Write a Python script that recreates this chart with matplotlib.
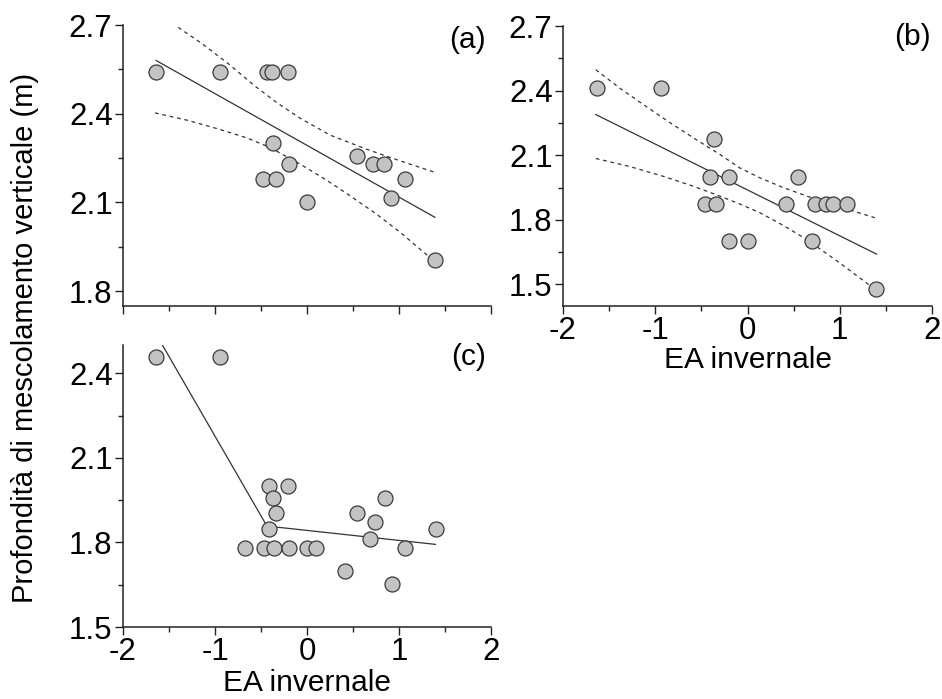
import matplotlib
matplotlib.use("Agg")
import matplotlib.pyplot as plt
from matplotlib.ticker import MultipleLocator

plt.rcParams['font.family'] = ['Liberation Sans', 'DejaVu Sans']

# ---------------- data ----------------
# panel (a)
a_x = [-1.64, -0.95, -0.44, -0.38, -0.21, -0.37, -0.20, -0.48, -0.34, 0.00,
       0.54, 0.72, 0.84, 1.06, 0.91, 1.39]
a_y = [2.54, 2.54, 2.54, 2.54, 2.54, 2.30, 2.23, 2.18, 2.18, 2.10,
       2.256, 2.23, 2.23, 2.18, 2.114, 1.907]
a_fit_x = [-1.64, 1.39]
a_fit_y = [2.58, 2.05]
a_up_x = [-1.40, -1.145, -0.85, -0.584, -0.33, -0.076, 0.25, 0.649, 1.01, 1.39]
a_up_y = [2.692, 2.638, 2.568, 2.498, 2.438, 2.385, 2.328, 2.28, 2.241, 2.202]
a_lo_x = [-1.652, -1.30, -0.946, -0.65, -0.402, -0.076, 0.20, 0.467, 0.75, 1.01, 1.39]
a_lo_y = [2.403, 2.378, 2.347, 2.318, 2.286, 2.23, 2.178, 2.123, 2.062, 2.0, 1.90]

# panel (b)
b_x = [-1.634, -0.94, -0.366, -0.41, -0.20, 0.55, -0.464, -0.337, 0.417,
       0.73, 0.85, 0.93, 1.076, -0.20, 0.00, 0.70, 1.395]
b_y = [2.41, 2.41, 2.176, 2.0, 2.0, 2.0, 1.875, 1.875, 1.875,
       1.875, 1.875, 1.875, 1.875, 1.70, 1.70, 1.70, 1.479]
b_fit_x = [-1.645, 1.399]
b_fit_y = [2.289, 1.641]
b_up_x = [-1.645, -1.38, -1.101, -0.83, -0.558, -0.30, -0.087, 0.13, 0.38, 0.638, 1.0, 1.38]
b_up_y = [2.497, 2.410, 2.327, 2.248, 2.173, 2.104, 2.042, 1.996, 1.951, 1.911, 1.860, 1.81]
b_lo_x = [-1.645, -1.28, -0.92, -0.60, -0.304, -0.08, 0.13, 0.38, 0.638, 1.0, 1.39]
b_lo_y = [2.085, 2.048, 2.003, 1.958, 1.911, 1.873, 1.834, 1.776, 1.71, 1.600, 1.475]

# panel (c)
c_x = [-1.64, -0.944, -0.41, -0.207, -0.374, 0.853, -0.338, 0.544, 0.737,
       -0.417, 1.397, 0.69, -0.679, -0.465, -0.356, -0.20, 0.00, 0.10,
       1.07, 0.417, 0.925]
c_y = [2.456, 2.456, 2.0, 2.0, 1.956, 1.956, 1.904, 1.904, 1.874,
       1.846, 1.846, 1.813, 1.78, 1.78, 1.78, 1.78, 1.78, 1.78,
       1.78, 1.70, 1.654]
c_fit_x = [-1.579, -0.436, 1.397]
c_fit_y = [2.504, 1.858, 1.793]

panel_labels = ["(a)", "(b)", "(c)"]
xlabel = "EA invernale"
ylabel = "Profondità di mescolamento verticale (m)"

# ---------------- style ----------------
FS_T = 22.5
FS_L = 21.5
mk = dict(marker='o', ls='none', ms=10.8, mfc='#c3c3c3', mec='#3a3a3a', mew=0.9, zorder=3)
solid = dict(color='#333333', lw=0.9, zorder=2)
dashed = dict(color='#333333', lw=0.9, ls=(0, (3, 3)), zorder=2)

fig = plt.figure(figsize=(9.42, 6.99), dpi=100)
ax_a = fig.add_axes([0.1306, 0.5622, 0.3906, 0.4020])
ax_b = fig.add_axes([0.5977, 0.5622, 0.3917, 0.4006])
ax_c = fig.add_axes([0.1306, 0.1030, 0.3906, 0.4034])


def style(ax, ylim, xlabels=True):
    ax.set_xlim(-2, 2)
    ax.set_ylim(*ylim)
    for s in ('top', 'right'):
        ax.spines[s].set_visible(False)
    for s in ('left', 'bottom'):
        ax.spines[s].set_linewidth(1.1)
        ax.spines[s].set_color('#222222')
    ax.xaxis.set_major_locator(MultipleLocator(1))
    ax.xaxis.set_minor_locator(MultipleLocator(0.5))
    ax.yaxis.set_major_locator(MultipleLocator(0.3))
    ax.yaxis.set_minor_locator(MultipleLocator(0.15))
    ax.tick_params(which='major', direction='out', length=6, width=1.0,
                   labelsize=FS_T, pad=1.5, color='#222222')
    ax.tick_params(which='minor', direction='out', length=3.5, width=1.0,
                   color='#222222')
    if not xlabels:
        ax.tick_params(axis='x', labelbottom=False)
    ax.yaxis.set_major_formatter(matplotlib.ticker.FormatStrFormatter('%.1f'))
    ax.xaxis.set_major_formatter(matplotlib.ticker.FormatStrFormatter('%d'))


# (a)
style(ax_a, (1.75, 2.7), xlabels=False)
ax_a.plot(a_fit_x, a_fit_y, **solid)
ax_a.plot(a_up_x, a_up_y, **dashed)
ax_a.plot(a_lo_x, a_lo_y, **dashed)
ax_a.plot(a_x, a_y, **mk)
ax_a.text(0.935, 0.947, panel_labels[0], transform=ax_a.transAxes,
          ha='center', va='center', fontsize=FS_L)

# (b)
style(ax_b, (1.4, 2.7))
ax_b.plot(b_fit_x, b_fit_y, **solid)
ax_b.plot(b_up_x, b_up_y, **dashed)
ax_b.plot(b_lo_x, b_lo_y, **dashed)
ax_b.plot(b_x, b_y, **mk)
ax_b.text(0.946, 0.96, panel_labels[1], transform=ax_b.transAxes,
          ha='center', va='center', fontsize=FS_L)
ax_b.set_xlabel(xlabel, fontsize=FS_L, labelpad=0)

# (c)
style(ax_c, (1.5, 2.5))
ax_c.plot(c_fit_x, c_fit_y, **solid)
ax_c.plot(c_x, c_y, **mk)
ax_c.text(0.94, 0.957, panel_labels[2], transform=ax_c.transAxes,
          ha='center', va='center', fontsize=FS_L)
ax_c.set_xlabel(xlabel, fontsize=FS_L, labelpad=1)

fig.text(0.027, 0.517, ylabel, rotation=90, ha='center', va='center', fontsize=21)

fig.savefig("out.png", dpi=100)
